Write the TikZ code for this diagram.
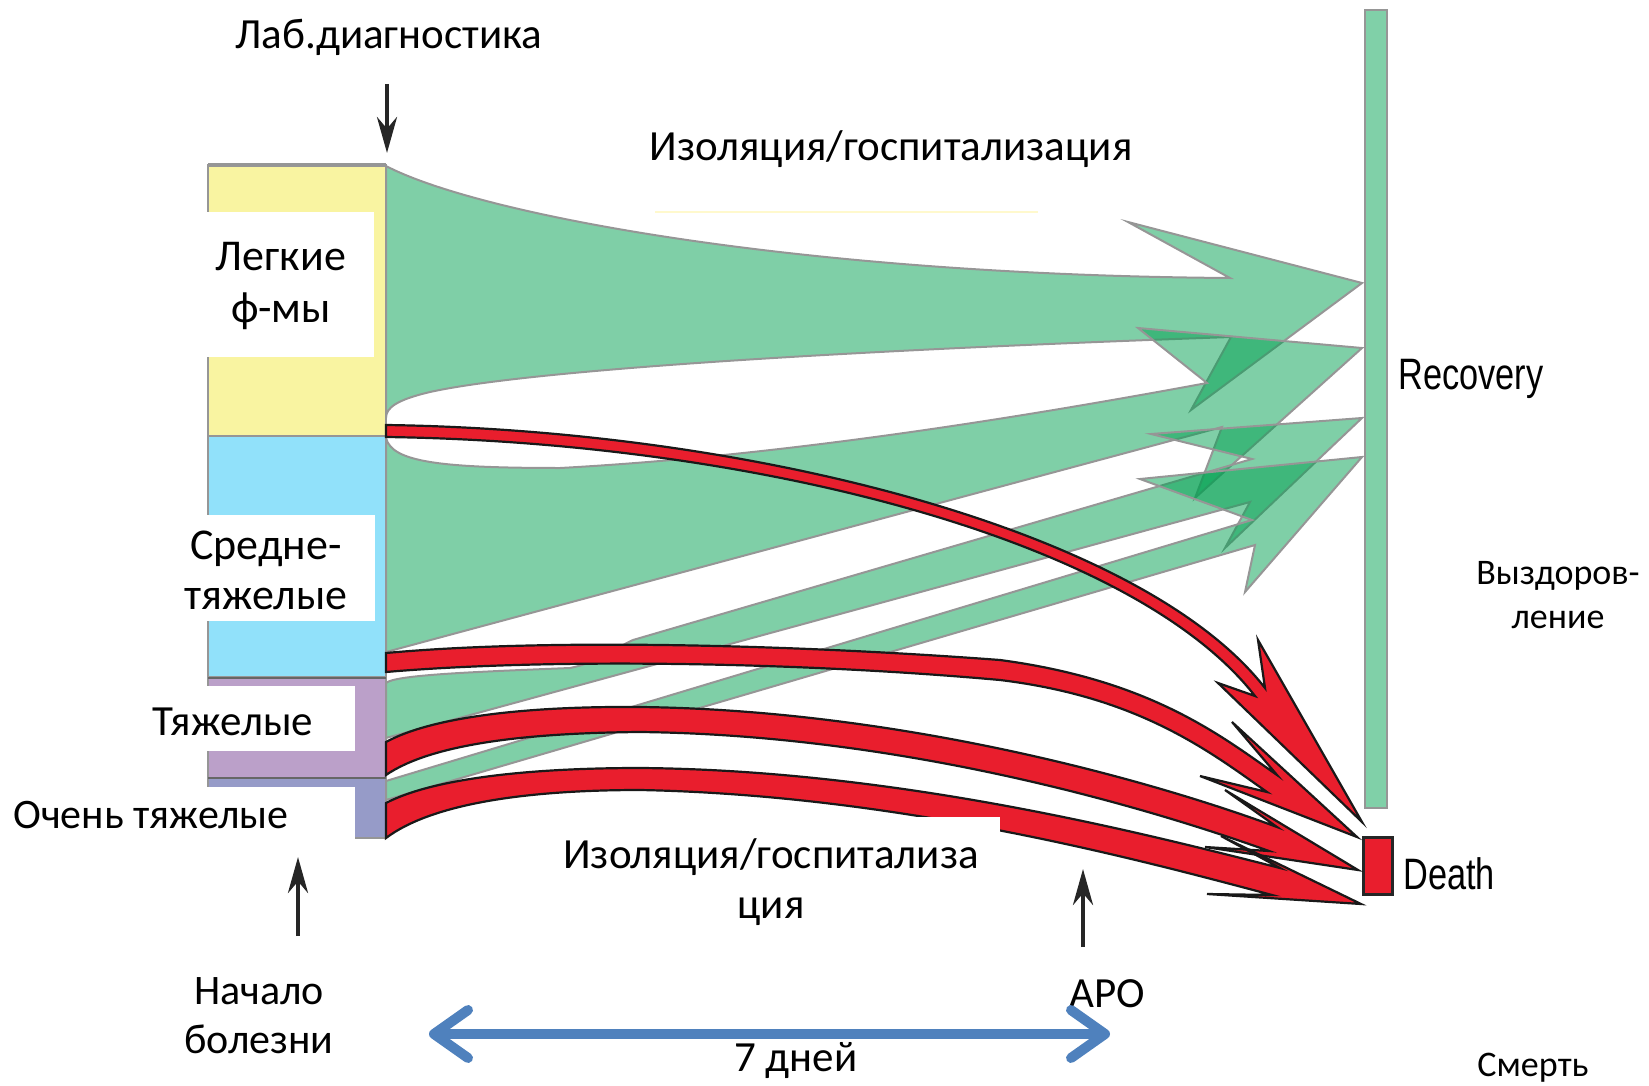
\documentclass[tikz,border=0pt]{standalone}
\usepackage{fontspec}
\setmainfont{Carlito}
\newfontfamily\narrowsans[FakeStretch=0.78]{Liberation Sans}
\usepackage{tikz}
\usetikzlibrary{arrows.meta,calc}

%% 颜色定义
\definecolor{mildyellow}{RGB}{249,244,161}
\definecolor{modcyan}{RGB}{145,225,250}
\definecolor{sevpurple}{RGB}{187,160,201}
\definecolor{critlav}{RGB}{150,155,200}
\definecolor{flowgreen}{RGB}{0,160,80}
\definecolor{recgreen}{RGB}{128,208,168}
\definecolor{deathred}{RGB}{233,30,45}
\definecolor{edgegray}{RGB}{150,150,150}
\definecolor{daysblue}{RGB}{79,129,189}
\definecolor{paleyellow}{RGB}{255,249,205}

\begin{document}
\begin{tikzpicture}[x=0.5pt,y=-0.5pt,
    greenflow/.style={fill=flowgreen, fill opacity=0.5, draw=edgegray, line width=1pt},
    redflow/.style={fill=deathred, draw=black!90, line width=1.1pt},
    stagebox/.style={draw=edgegray, line width=1pt},
    lbltext/.style={font=\fontsize{21.5pt}{26pt}\selectfont, align=center, inner sep=0pt},
    smalltext/.style={font=\fontsize{18pt}{22pt}\selectfont, align=center, inner sep=0pt},
    engtext/.style={font=\narrowsans\fontsize{22pt}{26pt}\selectfont, inner sep=0pt},
    blackarrow/.style={-{Stealth[length=18pt,width=10pt]}, line width=2.4pt, black!85}]
    \useasboundingbox (0,0) rectangle (1649,1086);

    %% 左侧分级方块
    \draw[stagebox, fill=mildyellow] (208,165) rectangle (386,436);
    \draw[stagebox, fill=modcyan] (208,436) rectangle (386,677);
    \draw[stagebox, fill=sevpurple] (208,678) rectangle (386,778);
    \draw[stagebox, fill=critlav] (208,778) rectangle (386,838);
    \draw[edgegray, line width=2pt] (208,165) -- (386,165);
    \draw[black!60, line width=1pt] (208,678) -- (386,678);
    \draw[black!60, line width=1pt] (208,778) -- (386,778);
    % 文字底下的白框
    \fill[white] (206,212) rectangle (374,357);
    \fill[white] (170,515) rectangle (375,621);
    \fill[white] (140,686) rectangle (355,751);
    \fill[white] (0,787) rectangle (355,842);

    %% 右侧结局
    \draw[stagebox, fill=recgreen] (1365,10) rectangle (1387,808);
    \draw[fill=deathred, draw=black!85, line width=1.5pt] (1363,837) rectangle (1392,894);
    \draw[paleyellow, line width=1pt] (655,212) -- (1038,212);

    %% 绿色流 (恢复)
    \draw[greenflow] (386,166) .. controls (480,215) and (800,275) .. (1230,278)
        -- (1128,222) -- (1362,283) -- (1191,410) -- (1231,337)
        .. controls (800,352) and (520,372) .. (430,392)
        .. controls (396,400) and (386,408) .. (386,418) -- cycle;
    \draw[greenflow] (386,438) .. controls (392,462) and (440,468) .. (560,468)
        .. controls (800,455) and (1050,412) .. (1207,383)
        -- (1138,328) -- (1362,348) -- (1195,498) -- (1222,427)
        -- (386,652) -- cycle;
    \draw[greenflow] (386,683) .. controls (395,675) and (470,672) .. (570,668)
        .. controls (600,662) and (615,648) .. (633,640)
        -- (1252,459) -- (1151,434) -- (1362,418) -- (1225,548) -- (1250,502)
        -- (386,738) -- cycle;
    \draw[greenflow] (386,781) -- (1252,520) -- (1140,479) -- (1362,457)
        -- (1245,592) -- (1255,545) -- (386,800) -- cycle;

    %% 红色流 (死亡)
    \draw[redflow] (386,425) .. controls (750,430) and (1142,530) .. (1265,688)
        -- (1258,640) -- (1362,822) -- (1218,683) -- (1255,696)
        .. controls (1132,538) and (750,442) .. (386,437) -- cycle;
    \draw[redflow] (386,653) .. controls (550,638) and (800,645) .. (1000,660)
        .. controls (1150,680) and (1220,735) .. (1277,775)
        -- (1232,722) -- (1357,837) -- (1200,776) -- (1267,792)
        .. controls (1210,752) and (1140,697) .. (1000,680)
        .. controls (800,662) and (550,658) .. (386,672) -- cycle;
    \draw[redflow] (386,742) .. controls (430,718) and (520,706) .. (640,707)
        .. controls (900,710) and (1150,780) .. (1277,827)
        -- (1225,790) -- (1358,870) -- (1205,847) -- (1269,851)
        .. controls (1140,805) and (900,735) .. (640,732)
        .. controls (520,733) and (430,745) .. (386,775) -- cycle;
    \draw[redflow] (386,803) .. controls (430,780) and (520,768) .. (640,768)
        .. controls (900,770) and (1150,835) .. (1280,868)
        -- (1221,836) -- (1361,904) -- (1207,894) -- (1272,895)
        .. controls (1140,860) and (900,795) .. (640,790)
        .. controls (520,790) and (430,805) .. (386,838) -- cycle;
    \fill[white] (540,817) rectangle (1000,930);

    %% 文字
    \node[lbltext] (labdiag) at (389,37) {Лаб.диагностика};
    \node[lbltext] (isotop) at (891,149) {Изоляция/госпитализация};
    \node[lbltext, font=\fontsize{22pt}{26pt}\selectfont] (mild) at (281,286) {Легкие\\ф-мы};
    \node[lbltext, font=\fontsize{22pt}{25pt}\selectfont] (moderate) at (266,570) {Средне-\\тяжелые};
    \node[lbltext] (severe) at (233,722) {Тяжелые};
    \node[lbltext, font=\fontsize{21pt}{25pt}\selectfont] (critical) at (151,815) {Очень тяжелые};
    \node[engtext] (rectext) at (1471,379) {Recovery};
    \node[engtext] (deathtext) at (1449,874) {Death};
    \node[smalltext] (recru) at (1558,595) {Выздоров-\\ление};
    \node[smalltext] (deathru) at (1533,1068) {Смерть};
    \node[lbltext, font=\fontsize{21pt}{24.5pt}\selectfont] (onset) at (259,1016) {Начало\\болезни};
    \node[lbltext] (apo) at (1107,994) {АРО};
    \node[lbltext] (days) at (796,1060) {7 дней};
    \node[lbltext, font=\fontsize{21.5pt}{25pt}\selectfont] (isobot) at (771,882) {Изоляция/госпитализа\\ция};

    %% 箭头
    \coordinate (labtop) at (387,84);
    \coordinate (labtip) at (387,153);
    \coordinate (onsetbot) at (298,936);
    \coordinate (onsettip) at (298,857);
    \coordinate (apobot) at (1083,947);
    \coordinate (apotip) at (1083,869);
    \coordinate (dayl) at (429,1034);
    \coordinate (dayr) at (1110,1034);
    \draw[blackarrow] (labtop) -- (labtip);
    \draw[blackarrow] (onsetbot) -- (onsettip);
    \draw[blackarrow] (apobot) -- (apotip);
    \draw[daysblue, line width=5pt, {Straight Barb[length=17pt,width=24pt,round]}-{Straight Barb[length=17pt,width=24pt,round]}] (dayl) -- (dayr);
\end{tikzpicture}
\end{document}
